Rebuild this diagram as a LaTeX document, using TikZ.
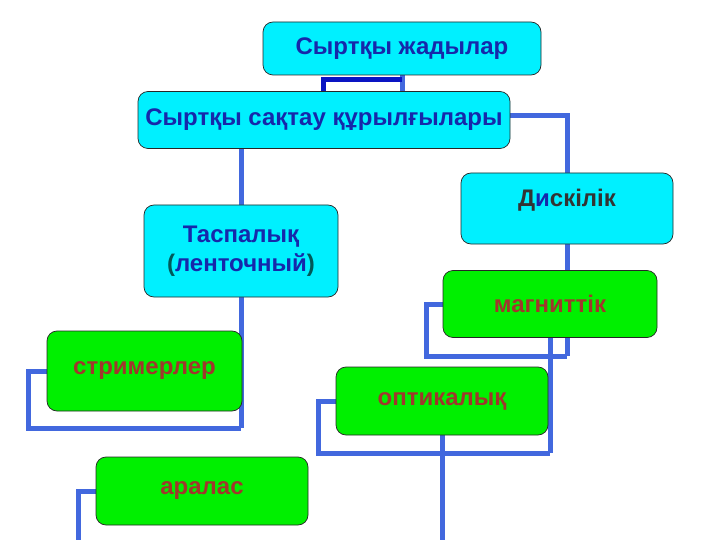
\documentclass[tikz,border=0pt]{standalone}
\usepackage{fontspec}
\setmainfont{Liberation Sans}
\usepackage{tikz}
\usetikzlibrary{backgrounds}
\definecolor{boxcyan}{RGB}{0,240,255}
\definecolor{boxgreen}{RGB}{0,240,0}
\definecolor{linkblue}{RGB}{66,104,222}
\definecolor{linkdark}{RGB}{10,20,195}
\definecolor{txtblue}{RGB}{22,40,170}
\definecolor{txtred}{RGB}{160,55,45}

\begin{document}
\begin{tikzpicture}[
  x=1pt,y=-1pt,
  every node/.style={font=\bfseries\fontsize{24}{29}\selectfont,align=center},
  card/.style={draw=black!85,line width=0.7pt,rounded corners=10pt,inner sep=0pt},
  upper/.style={card,fill=boxcyan,text=txtblue},
  lower/.style={card,fill=boxgreen,text=txtred},
  link/.style={draw=linkblue,line width=5pt},
  darklink/.style={draw=linkdark,line width=5pt}
]
  \useasboundingbox (0,0) rectangle (720,540);

  % 箱
  \node[upper,minimum width=278,minimum height=53] (outer) at (402,48.5)
    {Сыртқы жадылар};
  \node[upper,minimum width=372,minimum height=57] (store) at (324,120)
    {Сыртқы сақтау құрылғылары};
  \node[upper,minimum width=194,minimum height=92] (tape) at (241,251)
    {Таспалық\\ \textcolor{teal!70!black}{(}ленточный\textcolor{teal!70!black}{)}};
  \node[upper,text=black!80,minimum width=212,text height=34,text depth=37] (disk) at (567,208.5)
    {Д\textcolor{txtblue}{и}скілік};
  \node[lower,minimum width=214,minimum height=67] (magn) at (550,304)
    {магниттік};
  \node[lower,minimum width=195,minimum height=80] (strm) at (144.5,371)
    {стримерлер};
  \node[lower,minimum width=212,minimum height=68] (opt) at (442,401)
    {оптикалық};
  \node[lower,minimum width=212,minimum height=68] (mix) at (202,491)
    {аралас};

  % 結線
  \coordinate (k1) at (323,80);
  \coordinate (m1) at (567,356);
  \coordinate (mL) at (426,356);
  \coordinate (o1) at (550,453);
  \coordinate (oL) at (318,453);
  \coordinate (o2) at (442,540);
  \coordinate (xL) at (78,540);
  \coordinate (t1) at (241,428);
  \coordinate (sL) at (28,428);

  \begin{scope}[on background layer]
    \draw[link] (outer.south) -- (outer.south |- store.north);
    \draw[darklink] (k1 |- store.north) -- (k1) -- (outer.south |- k1);
    \draw[link] ([yshift=4]store.east) -| (disk.north);
    \draw[link] (tape.north |- store.south) -- (tape.north);

    \draw[link] (disk.south) -- (m1);
    \draw[link] (magn.west) -| (mL) -- (m1);

    \draw[link] (magn.south) -- (o1);
    \draw[link] (opt.west) -| (oL) -- (o1);
    \draw[link] (opt.south) -- (o2);

    \draw[link] (mix.west) -| (xL);

    \draw[link] (tape.south) -- (t1);
    \draw[link] (strm.west) -| (sL) -- (t1);
  \end{scope}
\end{tikzpicture}
\end{document}
